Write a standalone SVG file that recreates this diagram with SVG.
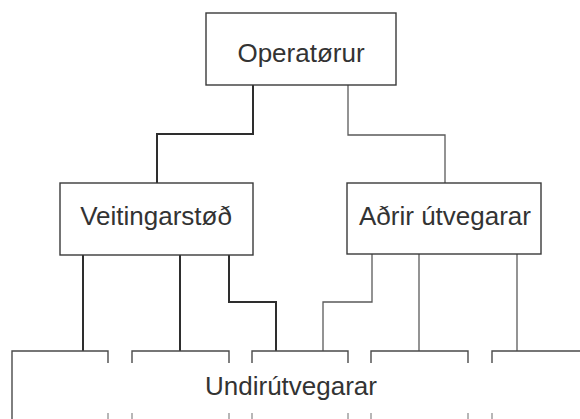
<svg xmlns="http://www.w3.org/2000/svg" width="580" height="419" viewBox="0 0 580 419">
  <style>
    .box { fill: #fff; stroke: #3a3a3a; stroke-width: 1.4; }
    .lbl { font-family: "Liberation Sans", Arial, sans-serif; font-size: 26px; fill: #333; text-anchor: middle; }
    .thick { fill: none; stroke: #2e2e2e; stroke-width: 2; }
    .thin { fill: none; stroke: #5a5a5a; stroke-width: 1.3; }
    .brk { fill: none; stroke: #4a4a4a; stroke-width: 1.4; }
    .tick { fill: none; stroke: #888; stroke-width: 1.2; }
  </style>
  <rect width="580" height="419" fill="#fff"/>
  <g id="connectors">
    <path class="thick" d="M253 85 V134 H157 V183"/>
    <path class="thin" d="M348 85 V135 H445 V183"/>
    <path class="thick" d="M83 255 V351"/>
    <path class="thick" d="M180 255 V351"/>
    <path class="thick" d="M229 255 V302 H276 V351"/>
    <path class="thin" d="M372 254 V302 H323 V351"/>
    <path class="thin" d="M419 254 V351"/>
    <path class="thin" d="M517 254 V351"/>
  </g>
  <g id="operatorur">
    <rect class="box" x="206" y="13" width="190" height="72"/>
    <text class="lbl" x="301" y="62">Operatørur</text>
  </g>
  <g id="veitingarstod">
    <rect class="box" x="60" y="183" width="193" height="72"/>
    <text class="lbl" x="156" y="225">Veitingarstøð</text>
  </g>
  <g id="adrir">
    <rect class="box" x="347" y="183" width="194" height="71"/>
    <text class="lbl" x="445" y="225">Aðrir útvegarar</text>
  </g>
  <g id="undirutvegarar">
    <path class="brk" d="M12 419 V351 H108 V363"/>
    <path class="brk" d="M132 363 V351 H229 V363"/>
    <path class="brk" d="M252 363 V351 H348 V363"/>
    <path class="brk" d="M371 363 V351 H468 V363"/>
    <path class="brk" d="M492 363 V351 H580"/>
    <path class="tick" d="M108 413 V419 M132 413 V419 M229 413 V419 M252 413 V419 M348 413 V419 M371 413 V419 M468 413 V419 M492 413 V419"/>
    <text class="lbl" x="291" y="395">Undirútvegarar</text>
  </g>
</svg>
